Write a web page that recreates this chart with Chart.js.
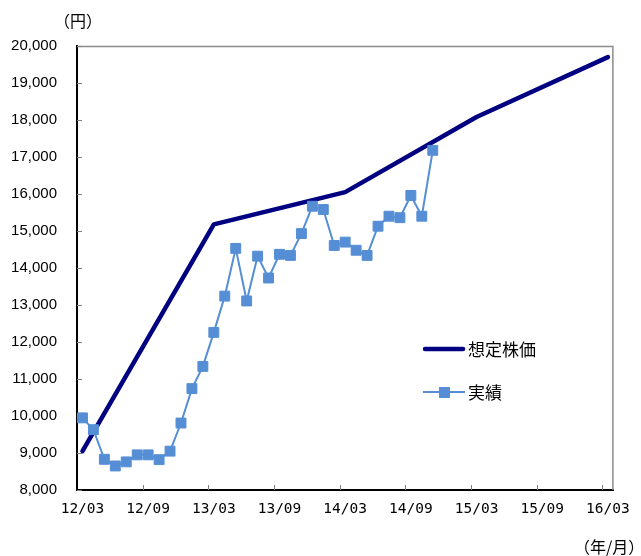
<!DOCTYPE html>
<html>
<head>
<meta charset="utf-8">
<script src="https://cdn.jsdelivr.net/npm/chart.js@4/dist/chart.umd.min.js"></script>
<style>
  html, body { margin: 0; padding: 0; background: #fff; }
  #wrap { position: relative; width: 641px; height: 556px; }
  #c { position: absolute; left: 0; top: 0; }
  .unit { position: absolute; font-family: "Noto Sans CJK JP", sans-serif; font-size: 16px; line-height: 1; color: #000; white-space: nowrap; }
</style>
</head>
<body>
<div id="wrap">
  <canvas id="c" width="641" height="556"></canvas>
  <div class="unit" style="left:54px; top:12px;">（円）</div>
  <div class="unit" style="left:574px; top:538px;">（年/月）</div>
</div>
<script>
// Monthly categories, 2012/03 through 2016/03
const months = [
  '12/03','12/04','12/05','12/06','12/07','12/08','12/09','12/10','12/11','12/12',
  '13/01','13/02','13/03','13/04','13/05','13/06','13/07','13/08','13/09','13/10',
  '13/11','13/12','14/01','14/02','14/03','14/04','14/05','14/06','14/07','14/08',
  '14/09','14/10','14/11','14/12','15/01','15/02','15/03','15/04','15/05','15/06',
  '15/07','15/08','15/09','15/10','15/11','15/12','16/01','16/02','16/03'
];

// Only every sixth month carries a label
const shownTicks = ['12/03','12/09','13/03','13/09','14/03','14/09','15/03','15/09','16/03'];

// Assumed share price: yearly checkpoints (March), straight segments between them
const assumedPrice = [
  9050, null, null, null, null, null, null, null, null, null, null, null,
  15180, null, null, null, null, null, null, null, null, null, null, null,
  16050, null, null, null, null, null, null, null, null, null, null, null,
  18080, null, null, null, null, null, null, null, null, null, null, null,
  19700
];

// Actual monthly share price, 12/03 – 14/11
const actualPrice = [
  9950, 9630, 8830, 8650, 8760, 8950, 8950, 8820, 9050, 9810,
  10740, 11340, 12260, 13240, 14530, 13110, 14320, 13730, 14370, 14340,
  14930, 15670, 15580, 14610, 14700, 14480, 14340, 15130, 15400, 15360,
  15960, 15400, 17180
];

const seriesNames = ['想定株価', '実績'];
const NAVY = '#000080';
const BLUE = '#558ED5';

// Frame, inward tick marks and the in-plot legend
const decor = {
  id: 'decor',
  beforeDatasetsDraw(chart) {
    const { ctx, chartArea: a, scales: { x, y } } = chart;
    ctx.save();
    // top and right frame
    ctx.strokeStyle = '#8c8c8c';
    ctx.lineWidth = 1.5;
    ctx.beginPath();
    ctx.moveTo(a.left, a.top + 0.5);
    ctx.lineTo(a.right - 0.5, a.top + 0.5);
    ctx.lineTo(a.right - 0.5, a.bottom);
    ctx.stroke();
    // inward tick marks
    ctx.strokeStyle = '#7f7f7f';
    ctx.lineWidth = 1;
    ctx.beginPath();
    y.ticks.forEach((t, i) => {
      const py = Math.round(y.getPixelForTick(i)) + 0.5;
      ctx.moveTo(a.left, py);
      ctx.lineTo(a.left + 5, py);
    });
    const half = (x.getPixelForTick(1) - x.getPixelForTick(0)) / 2;
    x.ticks.forEach((t, i) => {
      if (i % 6 !== 0 || i === 0) return;
      const px = Math.round(x.getPixelForTick(i) - half) + 0.5;
      ctx.moveTo(px, a.bottom);
      ctx.lineTo(px, a.bottom - 5);
    });
    ctx.stroke();
    ctx.restore();
  },
  afterDraw(chart) {
    const { ctx } = chart;
    const ds = chart.data.datasets;
    ctx.save();
    ctx.lineCap = 'round';
    // 想定株価
    ctx.strokeStyle = ds[0].borderColor;
    ctx.lineWidth = ds[0].borderWidth;
    ctx.beginPath();
    ctx.moveTo(425, 349);
    ctx.lineTo(463, 349);
    ctx.stroke();
    // 実績
    ctx.lineCap = 'butt';
    ctx.strokeStyle = ds[1].borderColor;
    ctx.lineWidth = ds[1].borderWidth;
    ctx.beginPath();
    ctx.moveTo(423, 392);
    ctx.lineTo(465, 392);
    ctx.stroke();
    ctx.fillStyle = ds[1].pointBackgroundColor;
    ctx.fillRect(439, 387, 11, 11);
    // labels
    ctx.fillStyle = '#000';
    ctx.font = '17px "Noto Sans CJK JP"';
    ctx.textBaseline = 'middle';
    ctx.textAlign = 'left';
    ctx.fillText(ds[0].label, 468, 350);
    ctx.fillText(ds[1].label, 468, 393);
    ctx.restore();
  }
};

new Chart(document.getElementById('c'), {
  type: 'line',
  data: {
    labels: months,
    datasets: [
      {
        label: seriesNames[0],
        data: assumedPrice,
        borderColor: NAVY,
        borderWidth: 4.5,
        borderCapStyle: 'round',
        borderJoinStyle: 'round',
        pointRadius: 0,
        pointHoverRadius: 0,
        spanGaps: true,
        tension: 0,
        order: 2
      },
      {
        label: seriesNames[1],
        data: actualPrice,
        borderColor: BLUE,
        borderWidth: 2,
        backgroundColor: BLUE,
        pointBackgroundColor: BLUE,
        pointBorderColor: BLUE,
        pointBorderWidth: 1,
        pointStyle: 'rect',
        pointRadius: 7,
        tension: 0,
        order: 1
      }
    ]
  },
  options: {
    responsive: false,
    animation: false,
    devicePixelRatio: 1,
    layout: { padding: { top: 46, right: 27, left: 0, bottom: 0 } },
    plugins: { legend: { display: false }, tooltip: { enabled: false } },
    scales: {
      x: {
        type: 'category',
        offset: true,
        grid: { offset: true, drawOnChartArea: false, drawTicks: false },
        border: { color: '#000', width: 2 },
        ticks: {
          autoSkip: false,
          maxRotation: 0,
          padding: 11,
          color: '#000',
          font: { family: '"DejaVu Sans Mono"', size: 14.5 },
          callback: function (v, i) {
            const lab = this.getLabelForValue(v);
            return shownTicks.includes(lab) ? lab : '';
          }
        },
        afterFit: s => { s.height = 66; }
      },
      y: {
        min: 8000,
        max: 20000,
        grid: { drawOnChartArea: false, drawTicks: false },
        border: { color: '#000', width: 2 },
        ticks: {
          stepSize: 1000,
          padding: 20,
          color: '#000',
          font: { family: '"Liberation Sans"', size: 15 },
          callback: v => v.toLocaleString('en-US')
        },
        afterFit: s => { s.width = 77; }
      }
    }
  },
  plugins: [decor]
});
</script>
</body>
</html>
